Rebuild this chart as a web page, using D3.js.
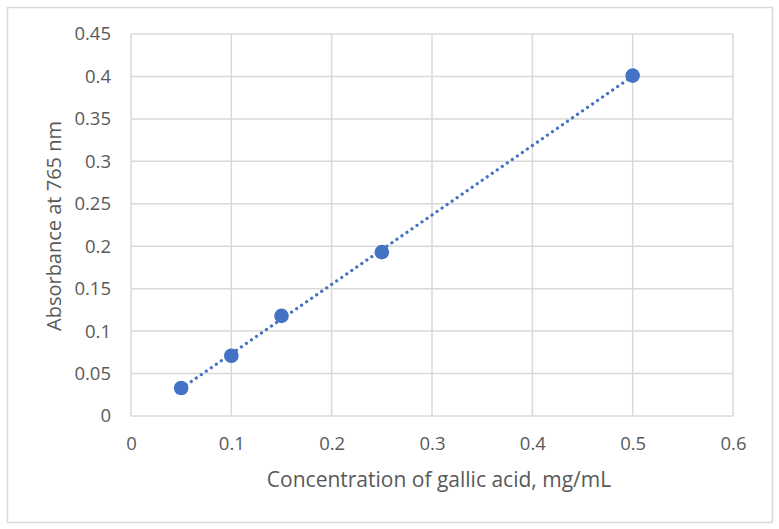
<!DOCTYPE html>
<html>
<head>
<meta charset="utf-8">
<script src="https://cdn.jsdelivr.net/npm/d3@7"></script>
<style>
  body { margin: 0; background: #fff; }
  text { font-family: "Open Sans", "Liberation Sans", sans-serif; fill: #595959; }
</style>
</head>
<body>
<div id="container"></div>
<script>
let w = 779;
let h = 529;

// data
let concentration = [0.05, 0.1, 0.15, 0.25, 0.5];
let absorbance = [0.033, 0.071, 0.118, 0.193, 0.401];
let xTicks = [0, 0.1, 0.2, 0.3, 0.4, 0.5, 0.6];
let yTicks = [0, 0.05, 0.1, 0.15, 0.2, 0.25, 0.3, 0.35, 0.4, 0.45];

let plot = {left: 131, right: 733, top: 34, bottom: 416};

let viz = d3.select("#container")
  .append("svg")
    .attr("width", w)
    .attr("height", h)
    .style("background-color", "#ffffff");

// chart border
viz.append("rect")
  .attr("x", 7.5).attr("y", 7.5)
  .attr("width", 765).attr("height", 515)
  .attr("fill", "none")
  .attr("stroke", "#d9d9d9")
  .attr("stroke-width", 1.5);

let xScale = d3.scaleLinear().domain([0, 0.6]).range([plot.left, plot.right]);
let yScale = d3.scaleLinear().domain([0, 0.45]).range([plot.bottom, plot.top]);

// gridlines
viz.append("g").attr("class", "ygrid")
  .selectAll("line").data(yTicks).enter().append("line")
    .attr("x1", plot.left).attr("x2", plot.right)
    .attr("y1", d => yScale(d)).attr("y2", d => yScale(d))
    .attr("stroke", "#d9d9d9").attr("stroke-width", 1.5);

viz.append("g").attr("class", "xgrid")
  .selectAll("line").data(xTicks).enter().append("line")
    .attr("y1", plot.top).attr("y2", plot.bottom)
    .attr("x1", d => xScale(d)).attr("x2", d => xScale(d))
    .attr("stroke", "#d9d9d9").attr("stroke-width", 1.5);

// axes (labels only, lines come from the grid)
let xAxis = d3.axisBottom(xScale).tickValues(xTicks).tickSize(0).tickPadding(21)
  .tickFormat(d => d3.format("")(d));
let xAxisGroup = viz.append("g").attr("class", "xaxis")
  .attr("transform", "translate(0," + plot.bottom + ")")
  .call(xAxis);

let yAxis = d3.axisLeft(yScale).tickValues(yTicks).tickSize(0).tickPadding(20)
  .tickFormat(d => d3.format("")(d));
let yAxisGroup = viz.append("g").attr("class", "yaxis")
  .attr("transform", "translate(" + plot.left + ",0)")
  .call(yAxis);

viz.selectAll(".xaxis .domain, .yaxis .domain").remove();
viz.selectAll(".xaxis text, .yaxis text")
  .style("font-size", "18.5px")
  .style("font-family", "'Open Sans', sans-serif")
  .attr("fill", "#595959");

// linear trendline (least squares, like the spreadsheet)
let mx = d3.mean(concentration);
let my = d3.mean(absorbance);
let sxy = d3.sum(concentration, (x, i) => (x - mx) * (absorbance[i] - my));
let sxx = d3.sum(concentration, x => (x - mx) * (x - mx));
let slope = sxy / sxx;
let intercept = my - slope * mx;
let trendX = d3.extent(concentration);

viz.append("path")
  .datum(trendX)
  .attr("d", d3.line().x(d => xScale(d)).y(d => yScale(slope * d + intercept)))
  .attr("fill", "none")
  .attr("stroke", "#4472c4")
  .attr("stroke-width", 3.2)
  .attr("stroke-linecap", "round")
  .attr("stroke-dasharray", "0.1 6");

// points
let points = concentration.map((c, i) => ({x: c, y: absorbance[i]}));
viz.append("g").attr("class", "vizgroup")
  .selectAll("circle").data(points).enter().append("circle")
    .attr("cx", d => xScale(d.x))
    .attr("cy", d => yScale(d.y))
    .attr("r", 7.3)
    .attr("fill", "#4472c4");

// axis titles
viz.append("text")
  .attr("x", (plot.left + plot.right) / 2 + 7)
  .attr("y", 487)
  .attr("text-anchor", "middle")
  .style("font-size", "21px")
  .text("Concentration of gallic acid, mg/mL");

viz.append("text")
  .attr("transform", "translate(61,226) rotate(-90)")
  .attr("text-anchor", "middle")
  .style("font-size", "20px")
  .text("Absorbance at 765 nm");
</script>
</body>
</html>
